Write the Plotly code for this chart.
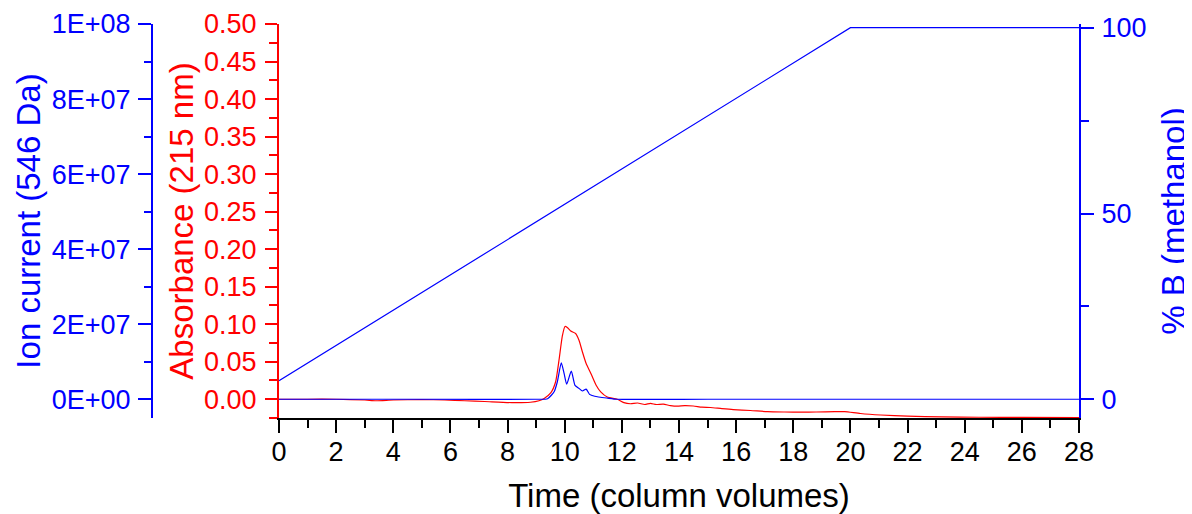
import plotly.graph_objects as go

# ---- data ----
abs_time = [0, 1, 2, 3, 3.4, 4, 5, 5.8, 6.5, 7.2, 8.15, 8.8, 9.1, 9.28, 9.51, 9.68, 9.8, 9.92,
            10.01, 10.09, 10.21, 10.38, 10.5, 10.62, 10.75, 10.92, 11.1, 11.26, 11.49, 11.84,
            12.07, 12.3, 12.55, 12.8, 13.0, 13.2, 13.45, 13.7, 13.94, 14.2, 14.5, 14.8, 15.1,
            15.5, 15.9, 16.5, 17.1, 17.7, 18.28, 18.8, 19.45, 19.8, 20.35, 21.06, 22.0, 23.2,
            24.5, 26, 28]
absorbance = [0.0, 0.0, 0.0, -0.001, -0.002, -0.001, -0.0005, -0.001, -0.002, -0.003, -0.0045,
              -0.004, -0.002, 0.001, 0.0084, 0.023, 0.052, 0.085, 0.097, 0.0956, 0.091, 0.0876,
              0.0787, 0.063, 0.0476, 0.034, 0.0187, 0.0098, 0.003, 0.0, -0.0045, -0.006, -0.005,
              -0.007, -0.0055, -0.007, -0.0065, -0.0085, -0.0093, -0.0085, -0.009, -0.0105,
              -0.011, -0.0125, -0.0138, -0.015, -0.0165, -0.017, -0.0173, -0.017, -0.0165,
              -0.0165, -0.019, -0.021, -0.0225, -0.0235, -0.024, -0.0243, -0.0245]

ion_time = [0, 5, 9.0, 9.4, 9.63, 9.74, 9.88, 9.98, 10.07, 10.23, 10.36, 10.5, 10.62, 10.75,
            10.87, 11.05, 11.5, 11.84, 15, 20, 28]
ion_current = [0, 0, 0, 1.5e5, 2.0e6, 4.6e6, 9.7e6, 6.8e6, 4.0e6, 7.5e6, 3.7e6, 2.9e6, 2.2e6,
               2.7e6, 1.3e6, 0.8e6, 0.3e6, 0, 0, 0, 0]

grad_time = [0, 20, 28]
percent_b = [5, 100, 100]

ion_tickvals = [0, 2e7, 4e7, 6e7, 8e7, 1e8]
ion_ticktext = ["0E+00", "2E+07", "4E+07", "6E+07", "8E+07", "1E+08"]

RED = "#FF0000"
BLUE = "#0000FF"
FONT = "Liberation Sans, Arial, sans-serif"
TICK = 27
TITLE = 33

fig = go.Figure()
fig.add_trace(go.Scatter(x=abs_time, y=absorbance, mode="lines", yaxis="y",
                         line=dict(color=RED, width=1.2, shape="spline", smoothing=0.6),
                         showlegend=False))
fig.add_trace(go.Scatter(x=ion_time, y=ion_current, mode="lines", yaxis="y2",
                         line=dict(color=BLUE, width=1.2, shape="spline", smoothing=0.6),
                         showlegend=False))
fig.add_trace(go.Scatter(x=grad_time, y=percent_b, mode="lines", yaxis="y3",
                         line=dict(color=BLUE, width=1.2), showlegend=False))

# page body has an 8 px margin, so the figure is laid out in a 1184x506 box offset by 8 px
OFF = 8
W, H = 1192 - OFF, 514 - OFF
ML, MR, MT, MB = 0, 113, 24 - OFF, 96
PW = W - ML - MR
x0 = (279 - OFF) / PW
ion_pos = (152 - OFF) / PW

common = dict(showgrid=False, zeroline=False, showline=True, linewidth=2,
              ticks="outside", tickwidth=2, automargin=False)

fig.update_layout(
    width=W, height=H,
    margin=dict(l=ML, r=MR, t=MT, b=MB),
    plot_bgcolor="white", paper_bgcolor="white",
    font=dict(family=FONT, size=TICK, color="black"),
    xaxis=dict(domain=[x0, 1], range=[0, 28], dtick=2, tick0=0, ticklen=13,
               linecolor="black", tickcolor="black",
               minor=dict(dtick=1, ticks="outside", ticklen=8, tickwidth=2, tickcolor="black"),
               tickfont=dict(size=TICK, color="black"), ticklabelstandoff=-4,
               title=dict(text="Time (column volumes)", font=dict(size=TITLE, color="black"),
                          standoff=18),
               **common),
    yaxis=dict(range=[-0.025, 0.5], dtick=0.05, tick0=0, tickformat=".2f",
               anchor="x", side="left", ticklen=12,
               linecolor=RED, tickcolor=RED,
               minor=dict(dtick=0.025, ticks="outside", ticklen=8, tickwidth=2, tickcolor=RED),
               tickfont=dict(size=TICK, color=RED), ticklabelstandoff=3,
               title=dict(text="Absorbance (215 nm)", font=dict(size=TITLE, color=RED),
                          standoff=0),
               **common),
    yaxis2=dict(range=[-5e6, 1e8], tickvals=ion_tickvals, ticktext=ion_ticktext,
                overlaying="y", anchor="free", position=ion_pos, side="left", ticklen=13,
                linecolor=BLUE, tickcolor=BLUE,
                minor=dict(dtick=1e7, tick0=0, ticks="outside", ticklen=7, tickwidth=2,
                           tickcolor=BLUE),
                tickfont=dict(size=TICK, color=BLUE), ticklabelstandoff=2,
                title=dict(text="Ion current (546 Da)", font=dict(size=TITLE, color=BLUE),
                           standoff=0),
                **common),
    yaxis3=dict(range=[-5, 101], dtick=50, tick0=0,
                overlaying="y", anchor="x", side="right", ticklen=13,
                linecolor=BLUE, tickcolor=BLUE,
                minor=dict(dtick=25, ticks="outside", ticklen=8, tickwidth=2, tickcolor=BLUE),
                tickfont=dict(size=TICK, color=BLUE), ticklabelstandoff=2,
                title=dict(text="% B (methanol)", font=dict(size=TITLE, color=BLUE),
                           standoff=19),
                **common),
)

fig.write_html("out.html")
